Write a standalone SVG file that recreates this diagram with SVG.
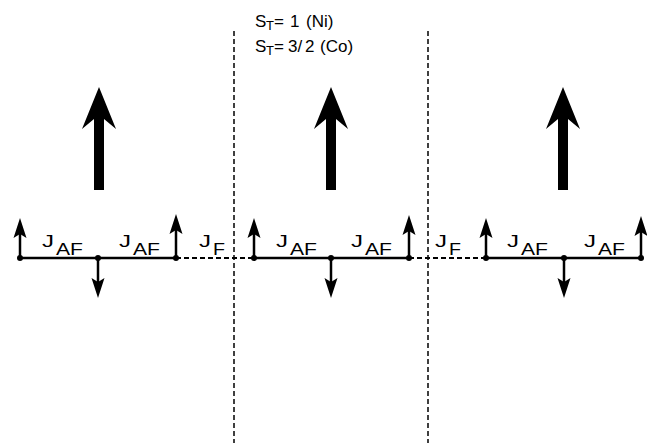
<svg xmlns="http://www.w3.org/2000/svg" width="647" height="443" viewBox="0 0 647 443">
<defs>
<style>
.t{font-family:"Liberation Sans",Arial,sans-serif;font-size:17px;fill:#000}
.sub{font-size:13px}
.chain{stroke:#000;stroke-width:2.5;fill:none}
.dash{stroke:#000;stroke-width:2;stroke-dasharray:5 3;fill:none}
.vd{stroke:#000;stroke-width:1.5;stroke-dasharray:5 3;fill:none}
.sp{stroke:#000;stroke-width:2.5;fill:none;marker-end:url(#ah)}
</style>
<marker id="ah" markerUnits="userSpaceOnUse" viewBox="-13 -8 22 16" refX="0" refY="0" markerWidth="22" markerHeight="16" orient="auto">
<path d="M8,0 L-12,-6.5 L-8,0 L-12,6.5 Z" fill="#000"/>
</marker>
<path id="bigA" d="M0,0 L17,42 L5,32 L5,103 L-5,103 L-5,32 L-17,42 Z"/>
</defs>
<g id="dividers">
<line class="vd" x1="234" y1="31" x2="234" y2="443"/>
<line class="vd" x1="428" y1="31" x2="428" y2="443"/>
</g>
<g id="header">
<text class="t" x="255" y="27">S<tspan class="sub" x="266" y="30">T</tspan><tspan x="274" y="27">=</tspan><tspan x="290">1</tspan><tspan x="306">(Ni)</tspan></text>
<text class="t" x="255" y="52">S<tspan class="sub" x="266" y="55">T</tspan><tspan x="274" y="52">=</tspan><tspan x="288">3/</tspan><tspan x="305">2</tspan><tspan x="320">(Co)</tspan></text>
</g>
<g id="big-arrows">
<use href="#bigA" x="99" y="87"/>
<use href="#bigA" x="331" y="87"/>
<use href="#bigA" x="563" y="87"/>
</g>
<g id="connectors">
<line class="chain" x1="20" y1="258" x2="176" y2="258"/>
<line class="chain" x1="254" y1="258" x2="409" y2="258"/>
<line class="chain" x1="486" y1="258" x2="641" y2="258"/>
<line class="dash" x1="176" y1="258" x2="254" y2="258"/>
<line class="dash" x1="409" y1="258" x2="486" y2="258"/>
</g>
<g id="spins">
<line class="sp" x1="20" y1="258" x2="20" y2="226"/>
<line class="sp" x1="176" y1="258" x2="176" y2="222"/>
<line class="sp" x1="98" y1="258" x2="98" y2="290"/>
<line class="sp" x1="254" y1="258" x2="254" y2="226"/>
<line class="sp" x1="409" y1="258" x2="409" y2="223"/>
<line class="sp" x1="331" y1="258" x2="331" y2="290"/>
<line class="sp" x1="486" y1="258" x2="486" y2="226"/>
<line class="sp" x1="641" y1="258" x2="641" y2="224"/>
<line class="sp" x1="564" y1="258" x2="564" y2="290"/>
</g>
<g id="sites" fill="#000">
<circle cx="20" cy="258" r="3"/><circle cx="98" cy="258" r="3"/><circle cx="176" cy="258" r="3"/>
<circle cx="254" cy="258" r="3"/><circle cx="331" cy="258" r="3"/><circle cx="409" cy="258" r="3"/>
<circle cx="486" cy="258" r="3"/><circle cx="564" cy="258" r="3"/><circle cx="641" cy="258" r="3"/>
</g>
<g id="labels">
<g id="jaf1"><text class="t" x="42" y="247" textLength="12" lengthAdjust="spacingAndGlyphs">J</text><text class="t" x="56" y="255" textLength="27" lengthAdjust="spacingAndGlyphs">AF</text></g>
<g id="jaf2"><text class="t" x="119" y="247" textLength="12" lengthAdjust="spacingAndGlyphs">J</text><text class="t" x="133" y="255" textLength="27" lengthAdjust="spacingAndGlyphs">AF</text></g>
<g id="jf1"><text class="t" x="199" y="247" textLength="12" lengthAdjust="spacingAndGlyphs">J</text><text class="t" x="213" y="255" textLength="12" lengthAdjust="spacingAndGlyphs">F</text></g>
<g id="jaf3"><text class="t" x="276" y="247" textLength="12" lengthAdjust="spacingAndGlyphs">J</text><text class="t" x="290" y="255" textLength="27" lengthAdjust="spacingAndGlyphs">AF</text></g>
<g id="jaf4"><text class="t" x="351" y="247" textLength="12" lengthAdjust="spacingAndGlyphs">J</text><text class="t" x="365" y="255" textLength="27" lengthAdjust="spacingAndGlyphs">AF</text></g>
<g id="jf2"><text class="t" x="435" y="247" textLength="12" lengthAdjust="spacingAndGlyphs">J</text><text class="t" x="449" y="255" textLength="12" lengthAdjust="spacingAndGlyphs">F</text></g>
<g id="jaf5"><text class="t" x="507" y="247" textLength="12" lengthAdjust="spacingAndGlyphs">J</text><text class="t" x="521" y="255" textLength="27" lengthAdjust="spacingAndGlyphs">AF</text></g>
<g id="jaf6"><text class="t" x="584" y="247" textLength="12" lengthAdjust="spacingAndGlyphs">J</text><text class="t" x="598" y="255" textLength="27" lengthAdjust="spacingAndGlyphs">AF</text></g>
</g>
</svg>
